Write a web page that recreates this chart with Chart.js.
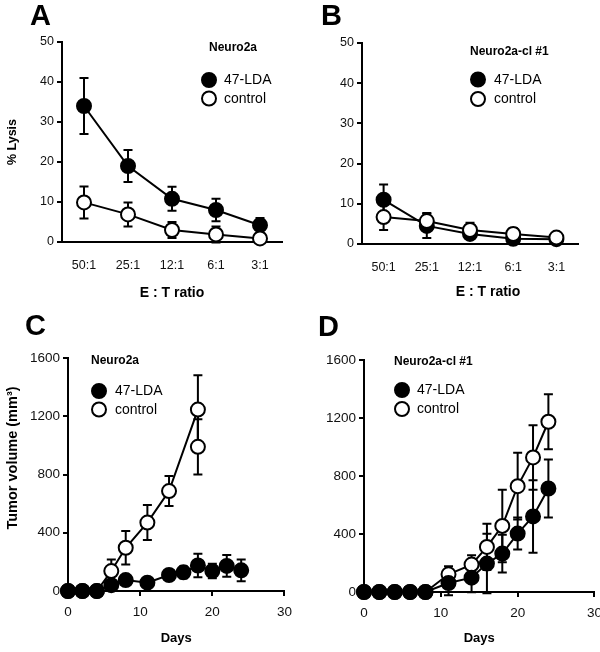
<!DOCTYPE html>
<html>
<head>
<meta charset="utf-8">
<script src="https://cdn.jsdelivr.net/npm/chart.js@4/dist/chart.umd.min.js"></script>
<style>
  html, body { margin:0; padding:0; background:#fff; overflow:hidden; }
  #wrap { position:relative; width:600px; height:652px; overflow:hidden; background:#fff; }
  .pl { position:absolute; }
  canvas { display:block; }
</style>
</head>
<body>
<div id="wrap">
  <div class="pl" style="left:0;top:0;width:300px;height:310px"><canvas id="cA" width="300" height="310"></canvas></div>
  <div class="pl" style="left:300px;top:0;width:300px;height:310px"><canvas id="cB" width="300" height="310"></canvas></div>
  <div class="pl" style="left:0;top:310px;width:300px;height:342px"><canvas id="cC" width="300" height="342"></canvas></div>
  <div class="pl" style="left:300px;top:310px;width:310px;height:342px"><canvas id="cD" width="310" height="342"></canvas></div>
</div>
<script>
// ---------------- DATA ----------------
const ratioLabels = ['50:1', '25:1', '12:1', '6:1', '3:1'];
const seriesNames = ['47-LDA', 'control'];

// Panel A (Neuro2a, % lysis)
const lysisA_LDA      = [34, 19, 10.8, 8, 4.2];
const lysisA_LDA_err  = [7, 4, 3, 2.8, 1.8];
const lysisA_ctrl     = [9.9, 6.9, 3, 1.9, 0.9];
const lysisA_ctrl_err = [4, 3, 2, 2, 0.5];

// Panel B (Neuro2a-cl #1, % lysis)
const lysisB_LDA      = [11, 4.5, 2.5, 1.3, 1.2];
const lysisB_LDA_err  = [3.8, 3, 1, 1, 0.4];
const lysisB_ctrl     = [6.7, 5.7, 3.5, 2.5, 1.6];
const lysisB_ctrl_err = [3.2, 2, 1.8, 1.5, 0.5];

// Panel C (Neuro2a, tumor volume)
const daysC_LDA     = [0, 2, 4, 6, 8, 11, 14, 16, 18, 20, 22, 24];
const volC_LDA      = [0, 0, 0, 40, 75, 57, 110, 128, 175, 137, 172, 142];
const volC_LDA_err  = [0, 0, 0, 20, 30, 25, 30, 40, 80, 50, 75, 75];
const daysC_ctrl    = [0, 2, 4, 6, 8, 11, 14, 18, 18];
const volC_ctrl     = [0, 0, 0, 137, 297, 470, 686, 1246, 990];
const volC_ctrl_err = [0, 0, 0, 80, 115, 120, 103, 235, 190];

// Panel D (Neuro2a-cl #1, tumor volume)
const daysD         = [0, 2, 4, 6, 8, 11, 14, 16, 18, 20, 22, 24];
const volD_LDA      = [0, 0, 0, 0, 0, 62, 99, 196, 265, 403, 521, 714];
const volD_LDA_err  = [0, 0, 0, 0, 0, 85, 100, 205, 130, 110, 250, 200];
const volD_ctrl     = [0, 0, 0, 0, 0, 122, 189, 311, 456, 730, 928, 1174];
const volD_ctrl_err = [0, 0, 0, 0, 0, 55, 65, 160, 250, 230, 222, 190];

const lysisTicks  = { min: 0, max: 50, step: 10 };
const volumeTicks = { min: 0, max: 1600, step: 400 };
const dayTicks    = { min: 0, max: 30, step: 10 };

// ---------------- HELPERS ----------------
const FONT = "'Liberation Sans', Arial, Helvetica, sans-serif";
Chart.defaults.font.family = FONT;
Chart.defaults.color = '#111';

const toXY = (xs, ys) => xs.map((x, i) => ({ x: x, y: ys[i] }));
const plainNum = v => String(v);

const errPlugin = {
  id: 'errbars',
  beforeDatasetsDraw(chart) {
    const ctx = chart.ctx, ys = chart.scales.y;
    chart.data.datasets.forEach((ds, di) => {
      if (!ds.err) return;
      const meta = chart.getDatasetMeta(di);
      meta.data.forEach((pt, i) => {
        const e = ds.err[i];
        if (!e) return;
        const raw = ds.data[i];
        const v = (typeof raw === 'object') ? raw.y : raw;
        const yt = ys.getPixelForValue(v + e), yb = ys.getPixelForValue(v - e);
        const cw = 4.5;
        ctx.save();
        ctx.strokeStyle = '#000'; ctx.lineWidth = 2; ctx.lineCap = 'butt';
        ctx.beginPath();
        ctx.moveTo(pt.x, yt); ctx.lineTo(pt.x, yb);
        ctx.moveTo(pt.x - cw, yt); ctx.lineTo(pt.x + cw, yt);
        ctx.moveTo(pt.x - cw, yb); ctx.lineTo(pt.x + cw, yb);
        ctx.stroke();
        ctx.restore();
      });
    });
  }
};

const legendPlugin = {
  id: 'panelLegend',
  afterDraw(chart, args, o) {
    if (!o || !o.title) return;
    const ctx = chart.ctx;
    ctx.save();
    ctx.fillStyle = '#000';
    ctx.textBaseline = 'middle';
    ctx.textAlign = 'left';
    ctx.font = 'bold ' + o.titleSize + 'px ' + FONT;
    ctx.fillText(o.title, o.titleX, o.titleY);
    ctx.font = o.textSize + 'px ' + FONT;
    o.order.forEach((di, k) => {
      const ds = chart.data.datasets[di];
      const y = o.y0 + k * o.dy;
      ctx.beginPath();
      ctx.arc(o.markerX, y, o.r, 0, Math.PI * 2);
      ctx.fillStyle = ds.pointBackgroundColor;
      ctx.fill();
      ctx.lineWidth = 2; ctx.strokeStyle = '#000'; ctx.stroke();
      ctx.fillStyle = '#000';
      ctx.fillText(ds.label, o.textX, y + 0.5);
    });
    ctx.restore();
  }
};

const overlayPlugin = {
  id: 'overlay',
  afterDraw(chart, args, o) {
    if (!o || !o.items) return;
    const ctx = chart.ctx;
    o.items.forEach(it => {
      ctx.save();
      ctx.fillStyle = '#000';
      ctx.font = it.font;
      ctx.textAlign = it.align || 'left';
      ctx.textBaseline = it.baseline || 'middle';
      ctx.translate(it.x, it.y);
      if (it.rot) ctx.rotate(it.rot);
      ctx.fillText(it.text, 0, 0);
      ctx.restore();
    });
  }
};

function ds(label, data, err, filled, r, order) {
  return {
    label: label, data: data, err: err,
    borderColor: '#000', borderWidth: 2,
    pointBackgroundColor: filled ? '#000' : '#fff',
    pointBorderColor: '#000', pointBorderWidth: 2,
    pointRadius: r, pointHoverRadius: r,
    tension: 0, fill: false, order: order, clip: false
  };
}

function yScale(t, width, fsize) {
  return {
    type: 'linear', min: t.min, max: t.max,
    ticks: { stepSize: t.step, font: { size: fsize }, color: '#111', padding: 3, callback: plainNum },
    grid: { display: true, drawOnChartArea: false, drawTicks: true, tickLength: 5, color: '#000', lineWidth: 2 },
    border: { display: true, color: '#000', width: 2 },
    title: { display: false },
    afterFit(s) { s.width = width; }
  };
}

function makeChart(id, cfg) {
  return new Chart(document.getElementById(id), {
    type: 'line',
    data: cfg.data,
    options: {
      responsive: false, animation: false, devicePixelRatio: 1,
      layout: { autoPadding: false, padding: cfg.padding },
      plugins: { legend: { display: false }, tooltip: { enabled: false },
                 panelLegend: cfg.legend, overlay: { items: cfg.overlay } },
      scales: cfg.scales
    },
    plugins: [errPlugin, legendPlugin, overlayPlugin]
  });
}

const letterFont = 'bold 29px ' + FONT;

// ---------------- PANEL A ----------------
makeChart('cA', {
  data: { labels: ratioLabels, datasets: [
    ds(seriesNames[0], lysisA_LDA, lysisA_LDA_err, true, 7, 1),
    ds(seriesNames[1], lysisA_ctrl, lysisA_ctrl_err, false, 7, 0)
  ]},
  padding: { left: 0, top: 42, right: 18, bottom: 0 },
  scales: {
    x: { type: 'category', offset: true,
         ticks: { font: { size: 12.5 }, color: '#111', padding: 16 },
         grid: { display: false, drawTicks: false },
         border: { display: true, color: '#000', width: 2 },
         title: { display: true, text: 'E : T ratio', font: { size: 14, weight: 'bold' }, color: '#000', padding: { top: 0, bottom: 8 } },
         afterFit(s) { s.height = 68; } },
    y: (function(){ const y = yScale(lysisTicks, 62, 12.5);
         y.title = { display: true, text: '% Lysis', font: { size: 12.5, weight: 'bold' }, color: '#000', padding: { top: 5, bottom: 0 } }; return y; })()
  },
  legend: { title: 'Neuro2a', titleSize: 12, titleX: 209, titleY: 48, order: [0, 1], markerX: 209, y0: 80, dy: 18.5, r: 7, textX: 224, textSize: 14 },
  overlay: [ { text: 'A', x: 30, y: 25, font: letterFont, baseline: 'alphabetic' } ]
});

// ---------------- PANEL B ----------------
makeChart('cB', {
  data: { labels: ratioLabels, datasets: [
    ds(seriesNames[0], lysisB_LDA, lysisB_LDA_err, true, 7, 1),
    ds(seriesNames[1], lysisB_ctrl, lysisB_ctrl_err, false, 7, 0)
  ]},
  padding: { left: 0, top: 43, right: 22, bottom: 0 },
  scales: {
    x: { type: 'category', offset: true,
         ticks: { font: { size: 12.5 }, color: '#111', padding: 16 },
         grid: { display: false, drawTicks: false },
         border: { display: true, color: '#000', width: 2 },
         title: { display: false },
         afterFit(s) { s.height = 66; } },
    y: yScale(lysisTicks, 62, 12.5)
  },
  legend: { title: 'Neuro2a-cl #1', titleSize: 12, titleX: 170, titleY: 52, order: [0, 1], markerX: 178, y0: 79.5, dy: 19.5, r: 7, textX: 194, textSize: 14 },
  overlay: [ { text: 'B', x: 21, y: 25, font: letterFont, baseline: 'alphabetic' },
             { text: 'E : T ratio', x: 188, y: 292, font: 'bold 14px ' + FONT, align: 'center' } ]
});

// ---------------- PANELS C / D ----------------
function dayScale(height) {
  return { type: 'linear', min: dayTicks.min, max: dayTicks.max,
    ticks: { stepSize: dayTicks.step, font: { size: 13.5 }, color: '#111', padding: 8, callback: plainNum },
    grid: { display: true, drawOnChartArea: false, drawTicks: true, tickLength: 5, color: '#000', lineWidth: 2 },
    border: { display: true, color: '#000', width: 2 },
    title: { display: true, text: 'Days', font: { size: 13, weight: 'bold' }, color: '#000', padding: { top: 0, bottom: 6 } },
    afterFit(s) { s.height = height; } };
}

makeChart('cC', {
  data: { datasets: [
    ds(seriesNames[0], toXY(daysC_LDA, volC_LDA), volC_LDA_err, true, 7, 0),
    ds(seriesNames[1], toXY(daysC_ctrl, volC_ctrl), volC_ctrl_err, false, 7, 1)
  ]},
  padding: { left: 0, top: 48, right: 10, bottom: 0 },
  scales: { x: dayScale(61), y: yScale(volumeTicks, 68, 13.5) },
  legend: { title: 'Neuro2a', titleSize: 12, titleX: 91, titleY: 51, order: [0, 1], markerX: 99, y0: 81, dy: 18.5, r: 7, textX: 115, textSize: 14 },
  overlay: [ { text: 'C', x: 25, y: 25, font: letterFont, baseline: 'alphabetic' },
             { text: 'Tumor volume (mm\u00B3)', x: 13, y: 148, font: 'bold 14.5px ' + FONT, align: 'center', rot: -Math.PI / 2 } ]
});

makeChart('cD', {
  data: { datasets: [
    ds(seriesNames[0], toXY(daysD, volD_LDA), volD_LDA_err, true, 7, 0),
    ds(seriesNames[1], toXY(daysD, volD_ctrl), volD_ctrl_err, false, 7, 1)
  ]},
  padding: { left: 0, top: 50, right: 15, bottom: 0 },
  scales: { x: dayScale(60), y: yScale(volumeTicks, 64, 13.5) },
  legend: { title: 'Neuro2a-cl #1', titleSize: 12, titleX: 94, titleY: 52, order: [0, 1], markerX: 102, y0: 80, dy: 19, r: 7, textX: 117, textSize: 14 },
  overlay: [ { text: 'D', x: 18, y: 26, font: letterFont, baseline: 'alphabetic' } ]
});
</script>
</body>
</html>
